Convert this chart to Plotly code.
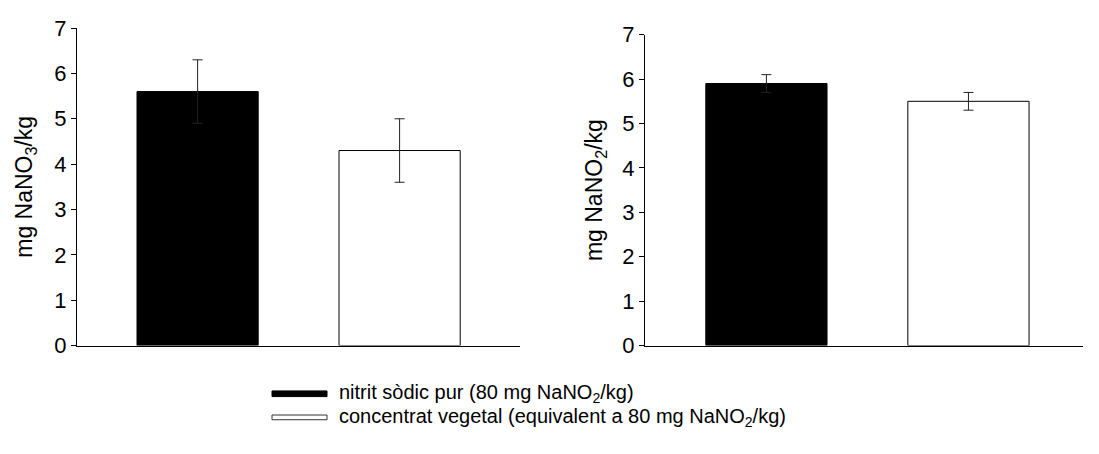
import plotly.graph_objects as go

categories = ["nitrit sòdic pur", "concentrat vegetal"]
nitrat_values = [5.6, 4.3]
nitrat_errors = [0.7, 0.7]
nitrit_values = [5.9, 5.5]
nitrit_errors = [0.2, 0.2]
legend_labels = ["nitrit sòdic pur (80 mg NaNO<sub>2</sub>/kg)",
                 "concentrat vegetal (equivalent a 80 mg NaNO<sub>2</sub>/kg)"]
fills = ["black", "white"]

FONT = "Liberation Sans, Arial, sans-serif"
fig = go.Figure()

for i, cat in enumerate(categories):
    fig.add_trace(go.Bar(
        x=[cat], y=[nitrat_values[i]], width=0.6,
        marker=dict(color=fills[i], line=dict(color="black", width=1)),
        error_y=dict(type="data", array=[nitrat_errors[i]], color="#222", thickness=1, width=5),
        xaxis="x", yaxis="y", showlegend=False))
    fig.add_trace(go.Bar(
        x=[cat], y=[nitrit_values[i]], width=0.6,
        marker=dict(color=fills[i], line=dict(color="black", width=1)),
        error_y=dict(type="data", array=[nitrit_errors[i]], color="#222", thickness=1, width=5),
        xaxis="x2", yaxis="y2", showlegend=False))

W, H = 1099, 454
def px(x):
    return x / W
def py(y):
    return (H - y) / H

yax = dict(range=[0, 7], dtick=1, showline=True, linecolor="black", linewidth=1,
           ticks="outside", ticklen=5, tickcolor="black", showgrid=False, zeroline=False,
           tickfont=dict(size=22, family=FONT, color="black"))
xax = dict(type="category", categoryorder="array", categoryarray=categories,
           showticklabels=False, showline=True, linecolor="black", linewidth=1,
           ticks="", showgrid=False, zeroline=False)

fig.update_layout(
    width=W, height=H, margin=dict(l=0, r=0, t=0, b=0),
    plot_bgcolor="white", paper_bgcolor="white", barmode="overlay",
    font=dict(family=FONT, color="black", size=20),
    xaxis=dict(xax, domain=[px(77), px(520)], range=[-0.597, 1.596], anchor="y"),
    yaxis=dict(yax, domain=[py(353), py(17)], anchor="x",
               title=dict(text="mg NaNO<sub>3</sub>/kg", font=dict(size=23, family=FONT), standoff=15)),
    xaxis2=dict(xax, domain=[px(645), px(1083)], range=[-0.601, 1.567], anchor="y2"),
    yaxis2=dict(yax, domain=[py(353), py(24)], anchor="x2",
                title=dict(text="mg NaNO<sub>2</sub>/kg", font=dict(size=23, family=FONT), standoff=13)),
)

# legend (drawn manually with wide swatches as in the reference)
legend_y = [404, 429]
for i, lab in enumerate(legend_labels):
    if i == 0:
        fig.add_shape(type="rect", xref="paper", yref="paper",
                      x0=px(272), x1=px(327), y0=py(legend_y[i] + 3), y1=py(legend_y[i] - 3),
                      fillcolor="black", line=dict(color="black", width=1))
    else:
        fig.add_shape(type="rect", xref="paper", yref="paper",
                      x0=px(272), x1=px(327), y0=py(legend_y[i] + 2.5), y1=py(legend_y[i] - 2.5),
                      fillcolor="white", line=dict(color="#333", width=1))
    fig.add_annotation(text=lab, xref="paper", yref="paper", x=px(338), y=py(legend_y[i]),
                       xanchor="left", yanchor="middle", showarrow=False, borderpad=0,
                       font=dict(size=20, family=FONT, color="black"))

fig.write_html("out.html")
